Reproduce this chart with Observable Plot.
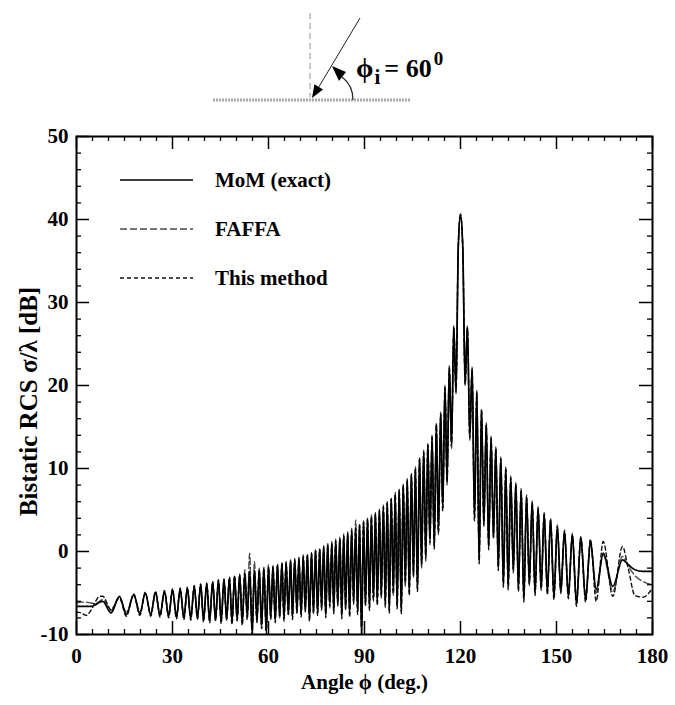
<!DOCTYPE html>
<html><head><meta charset="utf-8">
<script src="https://cdn.jsdelivr.net/npm/d3@7"></script>
<script src="https://cdn.jsdelivr.net/npm/@observablehq/plot@0.6"></script>
<style>
html,body{margin:0;padding:0;background:#fff;}
#wrap{position:relative;width:675px;height:705px;overflow:hidden;font-family:"Liberation Serif","Times New Roman",serif;}
#chart{position:absolute;left:0;top:110px;}
#overlay{position:absolute;left:0;top:0;pointer-events:none;}
</style></head>
<body><div id="wrap"><div id="chart"></div><svg id="overlay" width="675" height="705"></svg></div>
<script>
// ---- data (angle in degrees, RCS in dB) ----
const phi = [
  0, 1.5, 3, 4.5, 6, 7.2, 8.2, 10.8, 13.4, 15.6,
  17.9, 19.8, 21.5, 23.2, 24.7, 26.1, 27.5, 28.8, 30.0, 31.25,
  32.4, 33.55, 34.65, 35.7, 36.8, 37.8, 38.8, 39.7, 40.7, 41.6,
  42.55, 43.45, 44.35, 45.2, 46.1, 46.9, 47.8, 48.6, 49.4, 50.2,
  51.0, 51.8, 52.6, 53.35, 54.1, 54.9, 55.6, 56.4, 57.1, 57.85,
  58.55, 59.3, 60.0, 60.7, 61.4, 62.1, 62.8, 63.5, 64.2, 64.85,
  65.5, 66.2, 66.9, 67.5, 68.2, 68.9, 69.5, 70.2, 70.85, 71.5,
  72.15, 72.8, 73.45, 74.05, 74.7, 75.35, 76.0, 76.6, 77.25, 77.9,
  78.5, 79.15, 79.8, 80.4, 81.0, 81.65, 82.3, 82.9, 83.5, 84.1,
  84.75, 85.35, 86.0, 86.6, 87.25, 87.85, 88.45, 89.1, 89.7, 90.3,
  90.95, 91.55, 92.15, 92.8, 93.4, 94.0, 94.65, 95.25, 95.9, 96.5,
  97.1, 97.75, 98.35, 99.0, 99.6, 100.2, 100.85, 101.5, 102.1, 102.75,
  103.35, 104.0, 104.65, 105.3, 105.9, 106.55, 107.2, 107.85, 108.5, 109.15,
  109.8, 110.45, 111.1, 111.8, 112.45, 113.1, 113.8, 114.45, 115.15, 115.8,
  116.5, 117.2, 117.9, 118.6, 119.3, 120.0, 120.72, 121.44, 122.16, 122.9,
  123.63, 124.37, 125.1, 125.83, 126.57, 127.3, 128.05, 128.8, 129.55, 130.3,
  131.05, 131.8, 132.6, 133.4, 134.15, 134.9, 135.7, 136.5, 137.3, 138.1,
  138.95, 139.8, 140.65, 141.5, 142.4, 143.3, 144.25, 145.2, 146.15, 147.15,
  148.15, 149.2, 150.25, 151.35, 152.5, 153.7, 154.95, 156.25, 157.6, 159.1,
  160.6, 162.4, 164.6, 167.6, 170.6, 172.5, 174.5, 177, 180
];
const mom = [
  -6.6,-6.6,-6.6,-6.6,-6.4,-6.1,-6.0,-7.4,-5.4,-7.6,
  -5.2,-7.5,-5.0,-7.6,-4.9,-7.7,-4.8,-7.8,-4.6,-7.9,
  -4.5,-8.0,-4.4,-8.1,-4.2,-7.9,-4.0,-8.2,-3.9,-8.3,
  -3.7,-8.1,-3.5,-8.4,-3.4,-8.0,-3.2,-8.5,-3.0,-8.1,
  -2.8,-8.6,-2.6,-7.9,-2.4,-9.8,-2.3,-8.2,-2.2,-8.8,
  -2.0,-9.6,-1.9,-7.8,-1.8,-8.3,-1.6,-7.6,-1.4,-8.1,
  -1.3,-7.3,-1.1,-7.9,-1.0,-7.1,-0.8,-7.6,-0.6,-6.9,
  -0.4,-8.1,-0.2,-7.1,0.1,-7.4,0.3,-6.6,0.6,-7.7,
  0.8,-6.3,1.0,-7.2,1.3,-6.1,1.6,-7.8,1.9,-6.6,
  2.2,-7.6,2.6,-5.9,2.9,-7.3,3.2,-10.0,3.6,-6.1,
  3.9,-6.8,4.2,-5.5,4.6,-6.2,5.0,-5.1,5.4,-6.4,
  5.9,-7.1,6.4,-4.8,6.9,-6.6,7.4,-7.2,8.0,-3.6,
  8.6,-5.0,9.3,-2.6,10.0,-4.5,11.2,-1.4,12.0,-0.5,
  12.9,1.4,13.8,0.6,15.3,2.6,16.6,5.2,19.8,8.6,
  22.2,13.0,27.0,19.5,36.6,40.6,36.5,20.5,27.0,14.0,
  22.0,4.0,19.2,-1.2,17.0,3.5,15.3,0.5,13.7,2.0,
  12.4,-2.0,11.2,-4.0,10.0,-4.3,8.9,-2.0,8.1,-4.5,
  7.4,-5.8,6.6,-3.6,5.9,-5.0,5.2,-4.2,4.5,-4.9,
  3.8,-5.5,3.0,-4.6,2.4,-5.4,2.0,-6.3,1.6,-5.8,
  1.1,-4.6,-0.2,-4.2,-1.0,-1.6,-2.2,-2.4,-2.4
];
const faffa = [
  -6.2,-6.1,-6.1,-6.2,-6.3,-6.0,-5.8,-7.1,-5.5,-7.3,
  -5.3,-7.3,-5.1,-7.4,-5.0,-7.5,-4.9,-7.6,-4.7,-7.7,
  -4.6,-7.8,-4.5,-7.9,-4.3,-8.2,-4.1,-8.0,-4.0,-8.1,
  -3.8,-8.4,-3.6,-8.1,-3.5,-8.3,-3.3,-8.2,-3.1,-8.4,
  -2.7,-8.2,-2.2,-7.2,-0.2,-9.4,-1.2,-8.6,-2.0,-9.2,
  -1.9,-9.0,-1.6,-8.2,-1.7,-7.8,-1.5,-8.0,-1.3,-7.6,
  -1.2,-7.7,-1.0,-7.4,-0.8,-7.5,-0.7,-7.1,-0.4,-7.3,
  -0.3,-7.6,-0.1,-7.5,0.3,-6.9,0.4,-7.1,0.7,-7.2,
  1.0,-6.8,1.2,-6.7,1.5,-6.6,1.7,-7.2,2.1,-7.0,
  2.4,-7.0,2.8,-6.4,3.8,-6.8,3.4,-9.4,3.7,-6.6,
  4.0,-6.2,4.4,-6.0,4.7,-5.7,5.1,-5.6,5.6,-5.9,
  6.0,-6.5,6.5,-5.3,7.1,-6.0,7.5,-6.7,8.1,-4.2,
  8.8,-4.4,9.4,-3.1,10.2,-4.0,11.3,-2.0,12.2,-1.2,
  13.0,0.8,14.0,1.2,15.5,2.0,16.8,5.8,20.0,8.0,
  22.4,12.4,27.2,19.0,36.8,40.7,36.7,20.0,27.2,13.4,
  22.2,4.6,19.4,-0.6,17.2,3.0,15.5,1.1,13.9,1.5,
  12.6,-1.4,11.4,-3.5,10.2,-3.8,9.1,-2.6,8.3,-4.0,
  7.6,-5.2,6.8,-4.1,6.1,-4.5,5.4,-4.7,4.7,-4.4,
  4.0,-5.0,3.2,-5.1,2.6,-4.9,2.2,-5.8,1.8,-5.3,
  1.2,-5.0,-0.4,-4.8,-0.6,-1.8,-2.9,-3.6,-4.0
];
const method = [
  -7.3,-7.4,-7.7,-7.1,-6.0,-5.4,-5.4,-7.0,-5.6,-7.8,
  -5.1,-7.7,-4.9,-7.8,-4.8,-7.9,-4.7,-8.0,-4.5,-8.1,
  -4.4,-8.2,-4.3,-8.3,-4.1,-8.1,-3.9,-8.5,-3.8,-8.6,
  -3.6,-8.3,-3.4,-8.7,-3.3,-8.2,-3.1,-8.8,-2.9,-8.3,
  -2.9,-8.9,-2.7,-8.2,-2.5,-10.0,-2.4,-8.5,-2.3,-9.3,
  -2.1,-10.0,-2.0,-8.1,-1.9,-8.6,-1.7,-7.9,-1.5,-8.4,
  -1.4,-7.6,-1.2,-8.2,-1.1,-7.4,-0.9,-7.9,-0.7,-7.2,
  -0.5,-8.4,-0.3,-7.4,0.0,-7.7,0.2,-6.9,0.5,-8.0,
  0.7,-6.6,0.9,-7.5,1.2,-6.4,1.5,-8.1,1.8,-6.9,
  2.1,-7.9,2.5,-6.2,2.8,-7.6,3.1,-10.0,3.5,-6.4,
  3.8,-7.1,4.1,-5.8,4.5,-6.5,4.9,-5.4,5.3,-6.7,
  5.8,-7.4,6.3,-5.1,6.8,-6.9,7.3,-7.5,7.9,-3.9,
  8.5,-5.3,9.2,-2.9,9.9,-4.8,11.1,-1.7,11.9,-0.8,
  12.8,1.1,13.7,0.3,15.2,2.3,16.5,4.9,19.7,8.3,
  22.1,12.7,26.9,19.2,36.5,40.5,36.4,20.2,26.9,13.7,
  21.9,3.7,19.1,-1.5,16.9,3.2,15.2,0.2,13.6,1.7,
  12.3,-2.3,11.1,-4.3,9.9,-4.6,8.8,-2.3,8.0,-4.8,
  7.3,-6.1,6.5,-3.9,5.8,-5.3,5.1,-4.5,4.4,-5.2,
  3.7,-5.8,2.9,-4.9,2.3,-5.7,1.9,-6.6,1.7,-6.1,
  1.5,-6.0,1.2,-5.4,0.6,-2.2,-5.3,-5.5,-4.4
];
const seriesNames = ["MoM (exact)", "FAFFA", "This method"];
const xMajor = [0, 30, 60, 90, 120, 150, 180];
const xMinor = [5,10,15,20,25,35,40,45,50,55,65,70,75,80,85,95,100,105,110,115,125,130,135,140,145,155,160,165,170,175];
const yMajor = [-10, 0, 10, 20, 30, 40, 50];
const yMinor = [-8,-6,-4,-2,2,4,6,8,12,14,16,18,22,24,26,28,32,34,36,38,42,44,46,48];
const xTitle = "Angle \u03d5 (deg.)";
const yTitle = "Bistatic RCS \u03c3/\u03bb [dB]";
const incidence = "60";

// ---- styles ----
const serif = '"Liberation Serif", "Times New Roman", serif';
const styles = [
  {stroke: "#000", strokeWidth: 1.7, dash: null},
  {stroke: "#4a4a4a", strokeWidth: 1.4, dash: "7,3"},
  {stroke: "#111", strokeWidth: 1.4, dash: "4,3"}
];
const rows = phi.map((p, i) => ({phi: p, mom: mom[i], faffa: faffa[i], method: method[i]}));
const W = 675, H = 595, mt = 26, mb = 71, ml = 76, mr = 23;
const innerW = W - ml - mr, innerH = H - mt - mb;
const font = {fontFamily: serif, fontWeight: "bold"};
const major = 13, minor = 5;

const chart = Plot.plot({
  width: W, height: H, marginTop: mt, marginBottom: mb, marginLeft: ml, marginRight: mr,
  x: {domain: [0, 180]},
  y: {domain: [-10, 50]},
  style: {background: "#fff", color: "#000", fontFamily: serif, fontWeight: "bold", overflow: "visible"},
  marks: [
    Plot.lineY(rows, {x: "phi", y: "faffa", stroke: styles[1].stroke, strokeWidth: styles[1].strokeWidth, strokeDasharray: styles[1].dash, curve: "monotone-x", clip: true}),
    Plot.lineY(rows, {x: "phi", y: "method", stroke: styles[2].stroke, strokeWidth: styles[2].strokeWidth, strokeDasharray: styles[2].dash, curve: "monotone-x", clip: true}),
    Plot.lineY(rows, {x: "phi", y: "mom", stroke: styles[0].stroke, strokeWidth: styles[0].strokeWidth, curve: "monotone-x", clip: true}),
    // inward ticks on all four sides
    Plot.tickX(xMajor, {x: d => d, insetTop: innerH - major, strokeWidth: 1.5}),
    Plot.tickX(xMajor, {x: d => d, insetBottom: innerH - major, strokeWidth: 1.5}),
    Plot.tickX(xMinor, {x: d => d, insetTop: innerH - minor, strokeWidth: 1.3}),
    Plot.tickX(xMinor, {x: d => d, insetBottom: innerH - minor, strokeWidth: 1.3}),
    Plot.tickY(yMajor, {y: d => d, insetRight: innerW - major, strokeWidth: 1.5}),
    Plot.tickY(yMajor, {y: d => d, insetLeft: innerW - major, strokeWidth: 1.5}),
    Plot.tickY(yMinor, {y: d => d, insetRight: innerW - minor, strokeWidth: 1.3}),
    Plot.tickY(yMinor, {y: d => d, insetLeft: innerW - minor, strokeWidth: 1.3}),
    Plot.frame({stroke: "#000", strokeWidth: 2}),
    Plot.axisX(xMajor, {tickSize: 0, tickPadding: 14, label: null, tickFormat: d => String(d), fontSize: 21, fill: "#000", ...font}),
    Plot.axisY(yMajor, {tickSize: 0, tickPadding: 8, label: null, tickFormat: d => String(d), fontSize: 21, fill: "#000", ...font}),
    Plot.text([xTitle], {text: d => d, frameAnchor: "bottom", dy: 54, fontSize: 21, fill: "#000", ...font}),
    Plot.text([yTitle], {text: d => d, frameAnchor: "left", textAnchor: "middle", dx: -48, dy: 16, rotate: -90, fontSize: 25, fill: "#000", ...font})
  ]
});
document.getElementById("chart").appendChild(chart);

// ---- overlay: incidence sketch + legend ----
const ov = d3.select("#overlay");
const sk = ov.append("g");
sk.append("line").attr("x1", 213).attr("y1", 100).attr("x2", 410).attr("y2", 100)
  .attr("stroke", "#a8a8a8").attr("stroke-width", 3).attr("stroke-dasharray", "2,1");
sk.append("line").attr("x1", 310).attr("y1", 13).attr("x2", 310).attr("y2", 97)
  .attr("stroke", "#b4b4b4").attr("stroke-width", 1.5).attr("stroke-dasharray", "6,4");
sk.append("line").attr("x1", 360).attr("y1", 18).attr("x2", 317).attr("y2", 90)
  .attr("stroke", "#222").attr("stroke-width", 1);
sk.append("polygon").attr("points", "312,98 323,89.5 314.4,84.3").attr("fill", "#000");
sk.append("path").attr("d", "M353,100 C353,90 350,83 342,77").attr("fill", "none")
  .attr("stroke", "#222").attr("stroke-width", 1.2);
sk.append("polygon").attr("points", "332,66 346,72 339,81").attr("fill", "#000");
const t = sk.append("text").attr("x", 356).attr("y", 77).attr("fill", "#000")
  .style("font-family", serif).style("font-weight", "bold");
t.append("tspan").attr("font-size", 28).text("\u03d5");
t.append("tspan").attr("font-size", 21).attr("dy", 7).attr("dx", 1).text("i");
t.append("tspan").attr("font-size", 26).attr("dy", -7).attr("dx", 4).text("= " + incidence);
t.append("tspan").attr("font-size", 19).attr("dy", -12).attr("dx", 2).text("0");

const lg = ov.append("g");
const rowsY = [180, 229, 278];
seriesNames.forEach((name, i) => {
  const s = styles[i];
  const ln = lg.append("line").attr("x1", 120).attr("x2", 193).attr("y1", rowsY[i]).attr("y2", rowsY[i])
    .attr("stroke", s.stroke).attr("stroke-width", Math.min(s.strokeWidth, 1.4));
  if (s.dash) ln.attr("stroke-dasharray", s.dash);
  lg.append("text").attr("x", 215).attr("y", rowsY[i] + 7).attr("fill", "#000")
    .attr("font-size", 21).style("font-family", serif).style("font-weight", "bold")
    .text(name);
});
</script>
</body></html>
